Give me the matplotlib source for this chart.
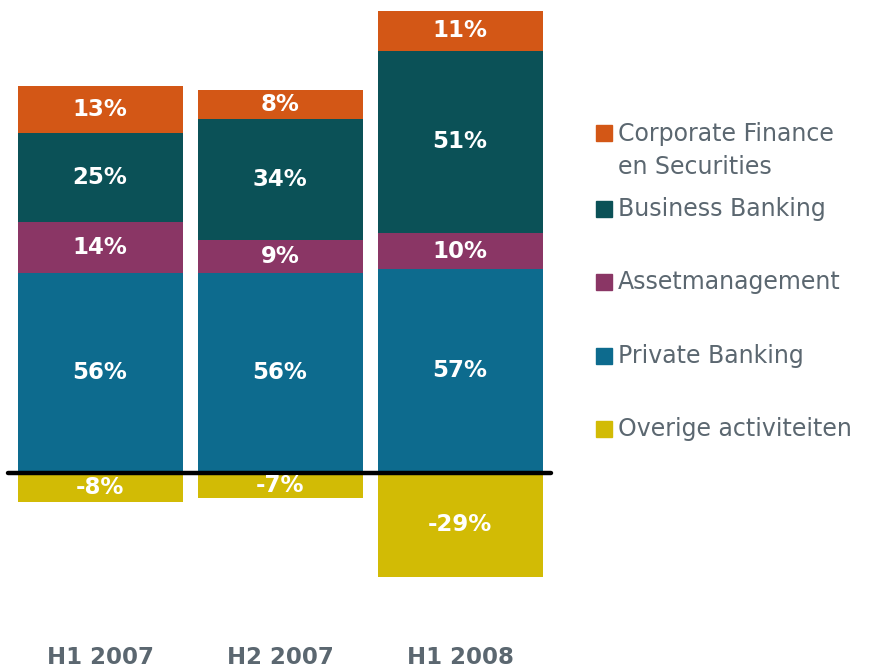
import matplotlib
matplotlib.use("Agg")
import matplotlib.pyplot as plt
from matplotlib.patches import Rectangle

categories = ["H1 2007", "H2 2007", "H1 2008"]
private_banking = [56, 56, 57]
assetmanagement = [14, 9, 10]
business_banking = [25, 34, 51]
corporate_finance = [13, 8, 11]
overige = [-8, -7, -29]

series = [
    ("Private Banking", private_banking, "#0D6B8E"),
    ("Assetmanagement", assetmanagement, "#8A3665"),
    ("Business Banking", business_banking, "#0B5157"),
    ("Corporate Finance\nen Securities", corporate_finance, "#D35716"),
]
neg_color = "#D2BB05"
text_gray = "#5B6770"

W, H = 882, 671
fig = plt.figure(figsize=(W / 100, H / 100), dpi=100)
ax = fig.add_axes([0, 0, 1, 1])
ax.axis("off")

px_per_unit = 3.58
x0_px, step_px, base_px = 100, 180, 473
ax.set_xlim(-x0_px / step_px, (W - x0_px) / step_px)
ax.set_ylim(-(H - base_px) / px_per_unit, base_px / px_per_unit)

xs = list(range(len(categories)))
width = 165 / 180
label_kw = dict(ha="center", va="center", color="white", fontsize=16.5,
                fontweight="bold", family="DejaVu Sans")

bottoms = [0] * len(categories)
for name, vals, color in series:
    ax.bar(xs, vals, width=width, bottom=bottoms, color=color, linewidth=0)
    for i, v in enumerate(vals):
        ax.text(xs[i], bottoms[i] + v / 2, f"{v}%", **label_kw)
    bottoms = [b + v for b, v in zip(bottoms, vals)]

ax.bar(xs, overige, width=width, color=neg_color, linewidth=0)
for i, v in enumerate(overige):
    ax.text(xs[i], v / 2, f"{v}%", **label_kw)

ax.plot([-0.511, 2.506], [0, 0], color="black", lw=3.2, solid_capstyle="round")

for i, c in enumerate(categories):
    ax.text(xs[i], -(657 - base_px) / px_per_unit, c, ha="center", va="center",
            color=text_gray, fontsize=16.5, fontweight="bold")

# legend (manual)
legend_items = [
    ("Corporate Finance\nen Securities", "#D35716", 133),
    ("Business Banking", "#0B5157", 209),
    ("Assetmanagement", "#8A3665", 282),
    ("Private Banking", "#0D6B8E", 356),
    ("Overige activiteiten", neg_color, 429),
]
for label, color, ypx in legend_items:
    fig.patches.append(Rectangle((596 / W, 1 - (ypx + 8) / H), 16 / W, 16 / H,
                                 transform=fig.transFigure, color=color))
    if "\n" in label:
        fig.text(618 / W, 1 - (ypx - 11) / H, label, ha="left", va="top",
                 color=text_gray, fontsize=17, linespacing=1.45)
    else:
        fig.text(618 / W, 1 - ypx / H, label, ha="left", va="center",
                 color=text_gray, fontsize=17)

fig.savefig("out.png", dpi=100)
